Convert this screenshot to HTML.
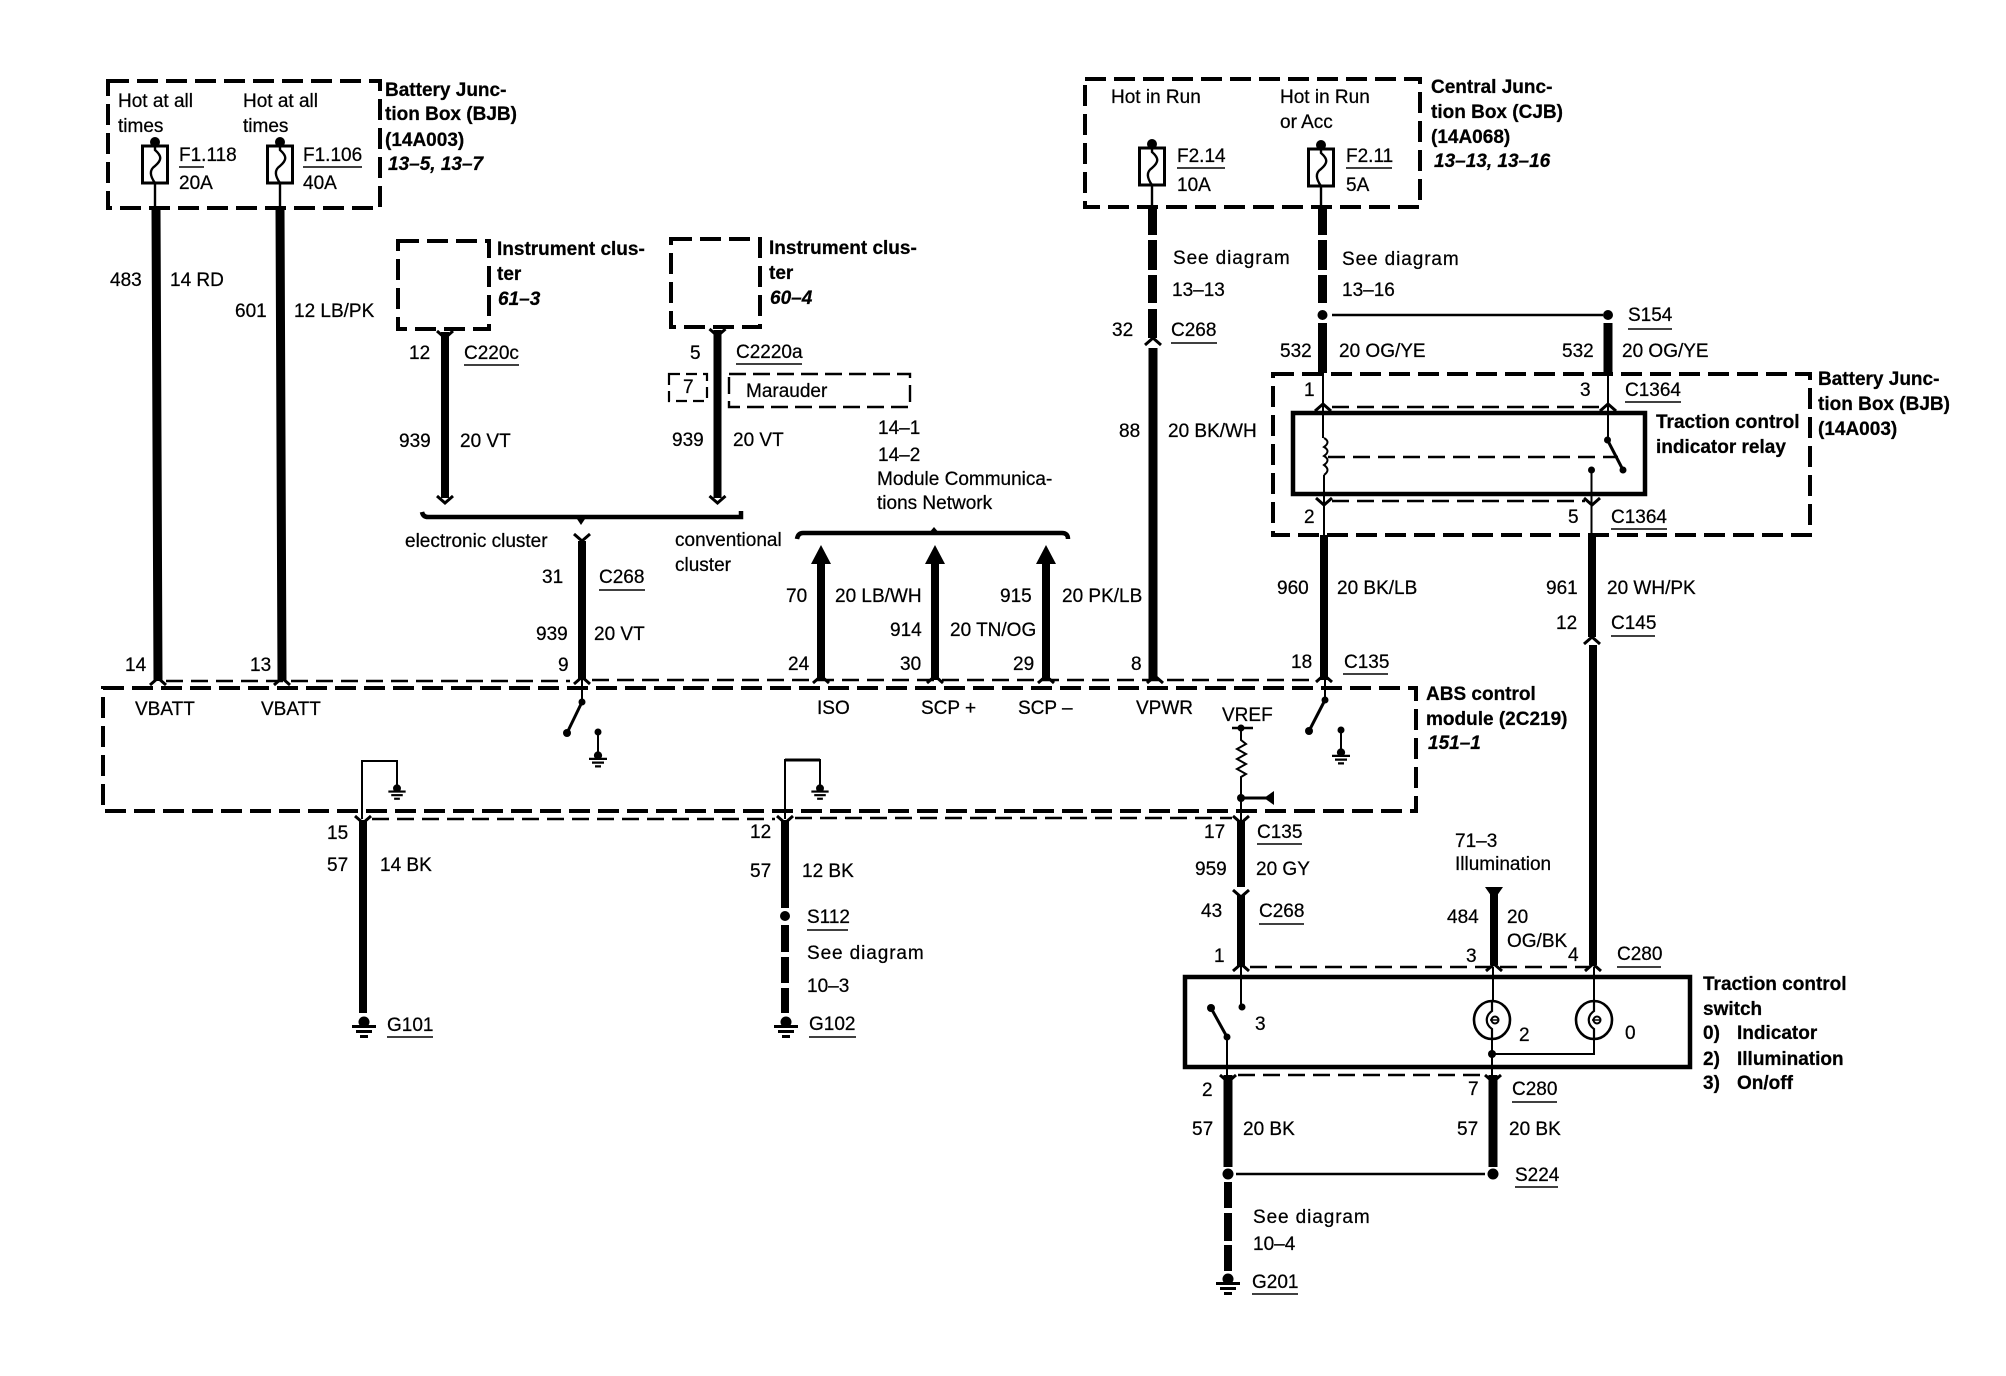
<!DOCTYPE html>
<html><head><meta charset="utf-8"><title>Wiring diagram</title>
<style>
html,body{margin:0;padding:0;background:#fff}
svg{display:block}
text{font-family:"Liberation Sans",sans-serif;font-size:19px;fill:#000;stroke:#000;stroke-width:.25}
.b{font-weight:bold}
.bi{font-weight:bold;font-style:italic}
.sd{letter-spacing:.9px}
.t{fill:none;stroke:#000;stroke-width:2}
.u{fill:none;stroke:#000;stroke-width:1.6}
.d{fill:none;stroke:#000;stroke-width:4;stroke-dasharray:21 8}
.c{fill:none;stroke:#000;stroke-width:2.4;stroke-dasharray:17 8}
.w{fill:none;stroke:#000;stroke-width:8}
.w9{fill:none;stroke:#000;stroke-width:9}
.s{fill:none;stroke:#000;stroke-width:4.5}
</style></head><body>
<svg xmlns="http://www.w3.org/2000/svg" width="2006" height="1376" viewBox="0 0 2006 1376">
<defs>
<g id="gnd"><circle cx="0" cy="6" r="5.5"/><rect x="-12" y="9" width="24" height="3"/><rect x="-8" y="14" width="16" height="3"/><rect x="-4" y="19" width="8" height="3"/></g>
<g id="up"><path d="M-8 7L0 0L8 7" fill="none" stroke="#000" stroke-width="3"/></g>
<g id="dn"><path d="M-8 -7L0 0L8 -7" fill="none" stroke="#000" stroke-width="3"/></g>
<g id="fuse"><rect x="-12.5" y="0" width="25" height="37" fill="none" stroke="#000" stroke-width="3"/><circle cx="0" cy="-4" r="5"/><path d="M0 0V4C7 10 7 14 0 20C-6 24 -5 30 0 37V62" fill="none" stroke="#000" stroke-width="2.4"/></g>
<g id="bulb"><ellipse cx="0" cy="0" rx="18" ry="19" fill="none" stroke="#000" stroke-width="2.6"/><path d="M0 -19V-9C-7 -4 -7 4 0 9V19" fill="none" stroke="#000" stroke-width="2.2"/><circle cx="3" cy="0" r="3.5" fill="none" stroke="#000" stroke-width="2"/><path d="M-2 0H6" stroke="#000" stroke-width="1.5"/></g>
</defs>
<rect width="2006" height="1376" fill="#fff"/>

<!-- dashed boxes -->
<rect class="d" x="108" y="81" width="272" height="127"/>
<rect class="d" x="1085" y="79" width="335" height="128"/>
<rect class="d" x="398" y="241" width="91" height="88"/>
<rect class="d" x="671" y="239" width="89" height="88"/>
<rect class="d" x="1273" y="374" width="537" height="161"/>
<rect class="d" x="103" y="688" width="1313" height="123"/>
<rect x="669" y="374" width="38" height="27" fill="none" stroke="#000" stroke-width="2.2" stroke-dasharray="11 6"/>
<rect x="729" y="374" width="181" height="33" fill="none" stroke="#000" stroke-width="2.4" stroke-dasharray="17 7"/>

<!-- solid boxes -->
<rect x="1293" y="413" width="352" height="81" fill="none" stroke="#000" stroke-width="4.5"/>
<rect x="1185" y="977" width="505" height="90" fill="none" stroke="#000" stroke-width="4.5"/>

<!-- connector dashed lines -->
<path class="c" d="M166 681H570"/>
<path class="c" d="M592 680H1312"/>
<path class="c" d="M372 819H775M795 818H1232"/>
<path class="c" d="M1332 407H1600"/>
<path class="c" d="M1332 501H1585"/>
<path class="c" d="M1250 967H1590"/>
<path class="c" d="M1238 1075H1485"/>
<path class="c" d="M1328 457H1618"/>

<!-- fuses -->
<use href="#fuse" x="155" y="146"/>
<use href="#fuse" x="280" y="146"/>
<use href="#fuse" x="1152" y="148"/>
<use href="#fuse" x="1321" y="149"/>

<!-- thick wires -->
<path class="w9" d="M156 208L158 681M280 208L282 681"/>
<path class="w9" d="M1152.500 207V235M1152.500 240V270M1152.500 275V303M1152.500 309V338M1153 348V680"/>
<path class="w9" d="M1322.500 207V235M1322.500 240V270M1322.500 275V303M1322.500 323V373"/>
<path class="w9" d="M1608 323V373"/>
<path class="w" d="M445 332V498M717.500 330V498"/>
<path class="w" d="M582 541V680M821 560V680M935 560V680M1046 560V680"/>
<path class="w" d="M1324 535V680M1592 535V637M1593 645V965"/>
<path class="w" d="M363 820V1013M785 820V908M785 925V952M785 957V983M785 988V1013"/>
<path class="w" d="M1241 820V887M1241 895V967M1494 890V965"/>
<path class="w9" d="M1228 1075V1167M1493 1075V1167"/>
<path class="w" d="M1228 1182V1208M1228 1213V1241M1228 1245V1271"/>

<!-- arrows / chevrons -->
<use href="#up" x="1153" y="338"/><use href="#up" x="1592" y="637"/>
<use href="#dn" x="445" y="338"/><use href="#dn" x="717.500" y="336"/>
<use href="#dn" x="445" y="503"/><use href="#dn" x="717.500" y="503"/>
<use href="#dn" x="582" y="541"/>
<use href="#up" x="158" y="678"/><use href="#up" x="282" y="678"/><use href="#up" x="582" y="677"/><use href="#up" x="821" y="676"/><use href="#up" x="935" y="676"/><use href="#up" x="1046" y="676"/><use href="#up" x="1155" y="676"/><use href="#up" x="1324" y="675"/>
<use href="#dn" x="363" y="823"/><use href="#dn" x="785" y="823"/><use href="#dn" x="1241" y="823"/><use href="#dn" x="1241" y="897"/>
<use href="#up" x="1323" y="404"/><use href="#up" x="1608" y="404"/>
<use href="#dn" x="1324" y="505"/><use href="#dn" x="1592" y="505"/>
<use href="#up" x="1241" y="964"/><use href="#up" x="1494" y="964"/><use href="#up" x="1593" y="964"/>
<use href="#dn" x="1228" y="1082"/><use href="#dn" x="1493" y="1082"/>
<path d="M821 545L811 564H831ZM935 545L925 564H945ZM1046 545L1036 564H1056Z"/>
<path d="M1485 887H1503L1494 900Z"/>

<!-- brackets -->
<path class="s" d="M422 512Q423 517 428 517H741V511"/>
<path d="M575 516L581 525L587 516Z"/>
<path class="s" d="M797 539Q798 533 803 533H1062Q1068 533 1068 539"/>
<path d="M928 534L934 527L940 534Z"/>

<!-- relay internals -->
<path class="t" d="M1323 373V438M1324 475V535"/>
<path class="t" d="M1324 438q7 4 0 9q7 4 0 9q7 4 0 9q7 5 0 10"/>
<path class="t" d="M1608 373V440"/>
<path d="M1607.500 440L1623 470" stroke="#000" stroke-width="3"/>
<circle cx="1607.500" cy="440" r="3.500"/><circle cx="1623" cy="470" r="3.500"/><circle cx="1591.500" cy="470" r="3.500"/>
<path class="t" d="M1591.500 470V535"/>

<!-- ABS internals -->
<path class="t" d="M582 680V702M598 732V755"/>
<path d="M582 702L567 733" stroke="#000" stroke-width="3"/>
<circle cx="582" cy="702" r="3.500"/><circle cx="567" cy="733" r="4"/><circle cx="598" cy="732" r="3.500"/>
<use href="#gnd" transform="translate(598 751) scale(.75)"/>
<path class="t" d="M1325 680V700M1341 730V750"/>
<path d="M1325 700L1309 731" stroke="#000" stroke-width="3"/>
<circle cx="1325" cy="700" r="3.500"/><circle cx="1309" cy="731" r="4"/><circle cx="1341" cy="730" r="3.500"/>
<use href="#gnd" transform="translate(1341 748) scale(.75)"/>
<path class="t" d="M362 819V761H397V785M785 819V760H820V785"/>
<path d="M785 760H820" stroke="#000" stroke-width="3"/>
<use href="#gnd" transform="translate(397 784) scale(.72)"/><use href="#gnd" transform="translate(820 784) scale(.72)"/>
<path d="M1232 728H1253" stroke="#000" stroke-width="2.400"/>
<circle cx="1241" cy="728" r="3.500"/>
<path class="t" d="M1241 728V740l5 4l-9 5l9 5l-9 5l9 5l-9 5l9 5l-5 3V820"/>
<circle cx="1241" cy="798" r="4"/>
<path d="M1241 798H1266" stroke="#000" stroke-width="3"/>
<path d="M1264 798L1274 791V805Z"/>

<!-- switch internals -->
<path class="t" d="M1241 967V1007M1227 1037V1075"/>
<circle cx="1242" cy="1007" r="3.500"/><circle cx="1211" cy="1008" r="4"/><circle cx="1227" cy="1037" r="3.500"/>
<path d="M1211 1008L1227 1037" stroke="#000" stroke-width="3"/>
<use href="#bulb" x="1492" y="1020"/><use href="#bulb" x="1594" y="1020"/>
<path class="t" d="M1493 967V1001M1594 967V1001M1492 1039V1078M1594 1039V1054H1492"/>
<circle cx="1492" cy="1054" r="4"/>

<!-- splices -->
<circle cx="1322.500" cy="315" r="5"/><circle cx="1608" cy="315" r="5"/>
<path d="M1332 315H1603" stroke="#000" stroke-width="2.400"/>
<circle cx="785" cy="916" r="5"/>
<circle cx="1228" cy="1174" r="5.500"/><circle cx="1493" cy="1174" r="5.500"/>
<path d="M1236 1174H1485" stroke="#000" stroke-width="2.400"/>

<!-- grounds -->
<use href="#gnd" x="364" y="1016"/><use href="#gnd" x="786" y="1016"/><use href="#gnd" x="1228" y="1273"/>

<!-- underlines -->
<path class="u" d="M179 167H204M303 167H362M1177 168H1225M1346 168H1392M1171 343H1217M1628 329H1672M1625 402H1681M1611 529H1667M1611 636H1655M1343 674H1388M464 365H519M736 364H802M599 590H645M1257 844H1302M1259 924H1304M1617 967H1661M1512 1102H1557M1515 1187H1558M1252 1294H1298M387 1037H433M807 930H848M809 1037H856"/>

<!-- BJB top -->
<text x="118" y="107">Hot at all</text><text x="118" y="132">times</text>
<text x="243" y="107">Hot at all</text><text x="243" y="132">times</text>
<text x="179" y="161">F1.118</text><text x="179" y="189">20A</text>
<text x="303" y="161">F1.106</text><text x="303" y="189">40A</text>
<text class="b" x="385" y="96">Battery Junc-</text><text class="b" x="385" y="120">tion Box (BJB)</text><text class="b" x="385" y="146">(14A003)</text><text class="bi" x="388" y="170">13–5, 13–7</text>
<text x="110" y="286">483</text><text x="170" y="286">14 RD</text>
<text x="235" y="317">601</text><text x="294" y="317">12 LB/PK</text>

<!-- CJB top -->
<text x="1111" y="103">Hot in Run</text>
<text x="1280" y="103">Hot in Run</text><text x="1280" y="128">or Acc</text>
<text x="1177" y="162">F2.14</text><text x="1177" y="191">10A</text>
<text x="1346" y="162">F2.11</text><text x="1346" y="191">5A</text>
<text class="b" x="1431" y="93">Central Junc-</text><text class="b" x="1431" y="118">tion Box (CJB)</text><text class="b" x="1431" y="143">(14A068)</text><text class="bi" x="1434" y="167">13–13, 13–16</text>
<text class="sd" x="1173" y="264">See diagram</text><text x="1172" y="296">13–13</text>
<text class="sd" x="1342" y="265">See diagram</text><text x="1342" y="296">13–16</text>
<text x="1112" y="336">32</text><text x="1171" y="336">C268</text>
<text x="1628" y="321">S154</text>
<text x="1280" y="357">532</text><text x="1339" y="357">20 OG/YE</text>
<text x="1562" y="357">532</text><text x="1622" y="357">20 OG/YE</text>
<text x="1119" y="437">88</text><text x="1168" y="437">20 BK/WH</text>

<!-- Relay -->
<text x="1304" y="396">1</text><text x="1580" y="396">3</text><text x="1625" y="396">C1364</text>
<text x="1304" y="523">2</text><text x="1568" y="523">5</text><text x="1611" y="523">C1364</text>
<text class="b" x="1818" y="385">Battery Junc-</text><text class="b" x="1818" y="410">tion Box (BJB)</text><text class="b" x="1818" y="435">(14A003)</text>
<text class="b" x="1656" y="428">Traction control</text><text class="b" x="1656" y="453">indicator relay</text>
<text x="1277" y="594">960</text><text x="1337" y="594">20 BK/LB</text>
<text x="1546" y="594">961</text><text x="1607" y="594">20 WH/PK</text>
<text x="1556" y="629">12</text><text x="1611" y="629">C145</text>
<text x="1291" y="668">18</text><text x="1344" y="668">C135</text>

<!-- Clusters -->
<text class="b" x="497" y="255">Instrument clus-</text><text class="b" x="497" y="280">ter</text><text class="bi" x="498" y="305">61–3</text>
<text class="b" x="769" y="254">Instrument clus-</text><text class="b" x="769" y="279">ter</text><text class="bi" x="770" y="304">60–4</text>
<text x="409" y="359">12</text><text x="464" y="359">C220c</text>
<text x="690" y="359">5</text><text x="736" y="358">C2220a</text>
<text x="683" y="393">7</text><text x="746" y="397">Marauder</text>
<text x="399" y="447">939</text><text x="460" y="447">20 VT</text>
<text x="672" y="446">939</text><text x="733" y="446">20 VT</text>
<text x="878" y="434">14–1</text><text x="878" y="461">14–2</text><text x="877" y="485">Module Communica-</text><text x="877" y="509">tions Network</text>
<text x="405" y="547">electronic cluster</text>
<text x="675" y="546">conventional</text><text x="675" y="571">cluster</text>
<text x="542" y="583">31</text><text x="599" y="583">C268</text>
<text x="536" y="640">939</text><text x="594" y="640">20 VT</text>
<text x="786" y="602">70</text><text x="835" y="602">20 LB/WH</text>
<text x="890" y="636">914</text><text x="950" y="636">20 TN/OG</text>
<text x="1000" y="602">915</text><text x="1062" y="602">20 PK/LB</text>
<text x="125" y="671">14</text><text x="250" y="671">13</text><text x="558" y="671">9</text><text x="788" y="670">24</text><text x="900" y="670">30</text><text x="1013" y="670">29</text><text x="1131" y="670">8</text>

<!-- ABS -->
<text x="135" y="715">VBATT</text><text x="261" y="715">VBATT</text>
<text x="817" y="714">ISO</text><text x="921" y="714">SCP +</text><text x="1018" y="714">SCP –</text><text x="1136" y="714">VPWR</text><text x="1222" y="721">VREF</text>
<text class="b" x="1426" y="700">ABS control</text><text class="b" x="1426" y="725">module (2C219)</text><text class="bi" x="1428" y="749">151–1</text>

<!-- bottom -->
<text x="327" y="839">15</text><text x="327" y="871">57</text><text x="380" y="871">14 BK</text>
<text x="750" y="838">12</text><text x="750" y="877">57</text><text x="802" y="877">12 BK</text>
<text x="807" y="923">S112</text><text class="sd" x="807" y="959">See diagram</text><text x="807" y="992">10–3</text>
<text x="387" y="1031">G101</text><text x="809" y="1030">G102</text>
<text x="1204" y="838">17</text><text x="1257" y="838">C135</text>
<text x="1195" y="875">959</text><text x="1256" y="875">20 GY</text>
<text x="1201" y="917">43</text><text x="1259" y="917">C268</text>
<text x="1214" y="962">1</text><text x="1466" y="962">3</text><text x="1568" y="961">4</text><text x="1617" y="960">C280</text>
<text x="1455" y="847">71–3</text><text x="1455" y="870">Illumination</text>
<text x="1447" y="923">484</text><text x="1507" y="923">20</text><text x="1507" y="947">OG/BK</text>
<text x="1255" y="1030">3</text><text x="1519" y="1041">2</text><text x="1625" y="1039">0</text>
<text class="b" x="1703" y="990">Traction control</text><text class="b" x="1703" y="1015">switch</text>
<text class="b" x="1703" y="1039">0)</text><text class="b" x="1737" y="1039">Indicator</text>
<text class="b" x="1703" y="1065">2)</text><text class="b" x="1737" y="1065">Illumination</text>
<text class="b" x="1703" y="1089">3)</text><text class="b" x="1737" y="1089">On/off</text>
<text x="1202" y="1096">2</text><text x="1192" y="1135">57</text><text x="1243" y="1135">20 BK</text>
<text x="1468" y="1095">7</text><text x="1457" y="1135">57</text><text x="1509" y="1135">20 BK</text>
<text x="1512" y="1095">C280</text><text x="1515" y="1181">S224</text>
<text class="sd" x="1253" y="1223">See diagram</text><text x="1253" y="1250">10–4</text><text x="1252" y="1288">G201</text>
</svg>
</body></html>
